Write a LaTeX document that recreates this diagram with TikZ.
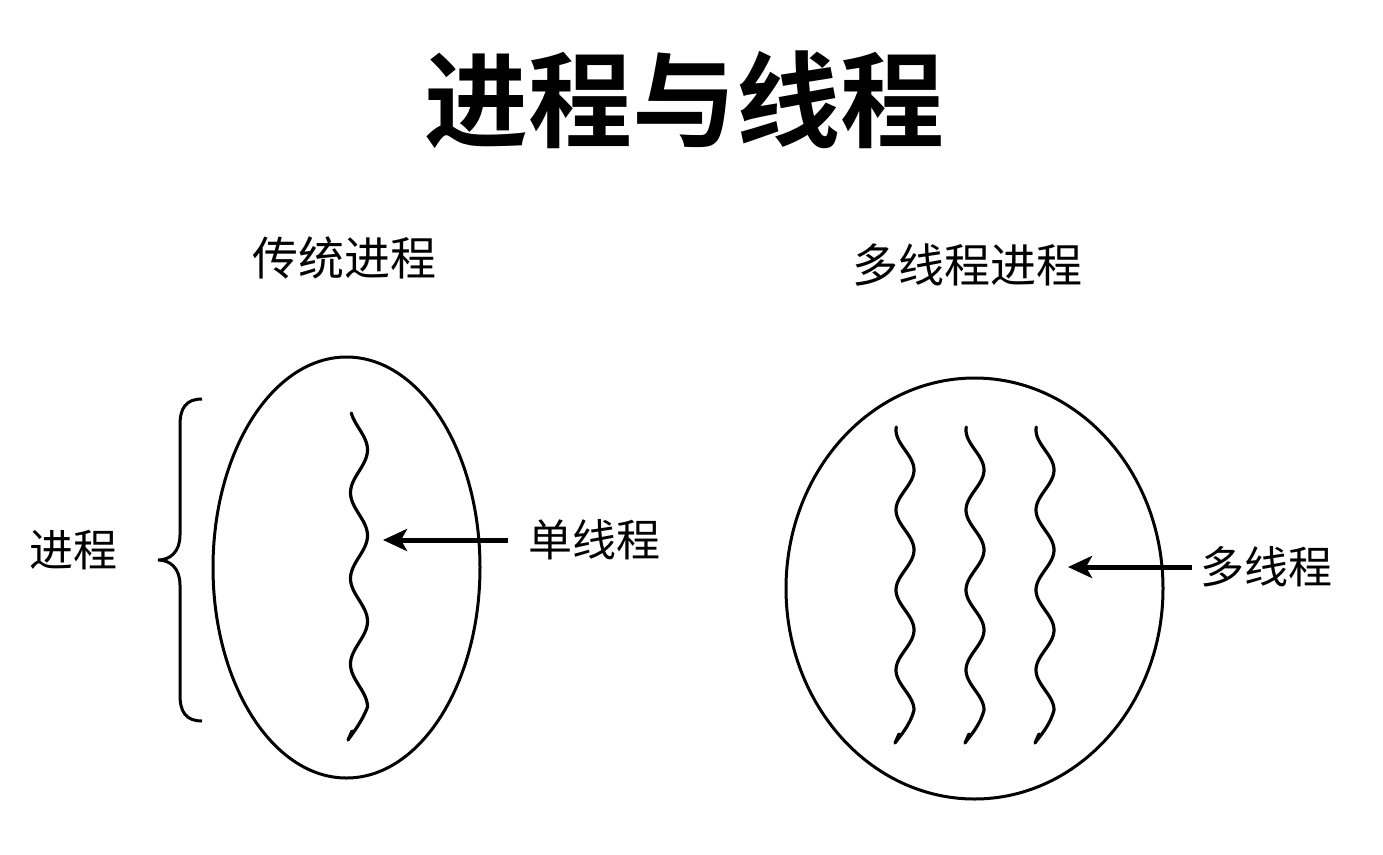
\documentclass[tikz,border=0pt]{standalone}
\usepackage{fontspec}
\newfontfamily\cjk{Noto Sans CJK SC}
\newfontfamily\cjkb{Noto Sans CJK SC Bold}
\usetikzlibrary{shapes.geometric,arrows.meta}
\tikzset{
  wave/.style={line width=3.2pt, line cap=round, line join=round},
  outline/.style={draw, line width=3pt, inner sep=0pt},
  lbl/.style={font=\cjk\fontsize{44}{44}\selectfont, inner sep=0pt},
  sublbl/.style={font=\cjk\fontsize{46}{46}\selectfont, inner sep=0pt},
  titlefont/.style={font=\cjkb\fontsize{104}{104}\selectfont, inner sep=0pt},
  pointer/.style={line width=5pt, -{Stealth[length=24pt,width=22pt,inset=6pt]}},
}
\begin{document}
\begin{tikzpicture}[x=1pt,y=-1pt]
\useasboundingbox (0,0) rectangle (1383,854);
% title
\node[titlefont] (title) at (684,100) {进程与线程};
% subtitles
\node[sublbl] (sub1) at (344,258) {传统进程};
\node[sublbl] (sub2) at (967,265) {多线程进程};
% process outlines
\node[outline, ellipse, minimum width=267pt, minimum height=421pt] (p1) at (346.5,567.5) {};
\node[outline, ellipse, minimum width=377pt, minimum height=421pt] (p2) at (974.5,588.5) {};
% brace
\draw[line width=3pt] (202,399) .. controls (186,399) and (180,408) .. (180,425)
  -- (180,535) .. controls (180,552) and (170,560) .. (158,560)
  .. controls (170,560) and (180,568) .. (180,585)
  -- (180,695) .. controls (180,712) and (186,721) .. (202,721);
\node[lbl] (proc) at (73,550) {进程};
% single thread
\draw[wave] plot[domain=413:707, samples=120, variable=\t] ({359-8.5*cos(4.2*(\t-407))},\t)
  .. controls (362,722) and (352,734) .. (348,740) -- (352,731);
% multi threads
\foreach \dx in {0,70,140}{
  \draw[wave] plot[domain=427:710, samples=120, variable=\t] ({905+\dx-9*cos(4.5*(\t-430))},\t)
    .. controls (910+\dx,726) and (899+\dx,737) .. (895+\dx,743) -- (899+\dx,734);
}
% labels and arrows
\node[lbl] (l1) at (594,540) {单线程};
\coordinate (t1) at (383,540);
\draw[pointer, shorten <=20pt] (l1.west) -- (t1);
\node[lbl] (l2) at (1266,567) {多线程};
\coordinate (t2) at (1068,567);
\draw[pointer, shorten <=8pt] (l2.west) -- (t2);
\end{tikzpicture}
\end{document}
